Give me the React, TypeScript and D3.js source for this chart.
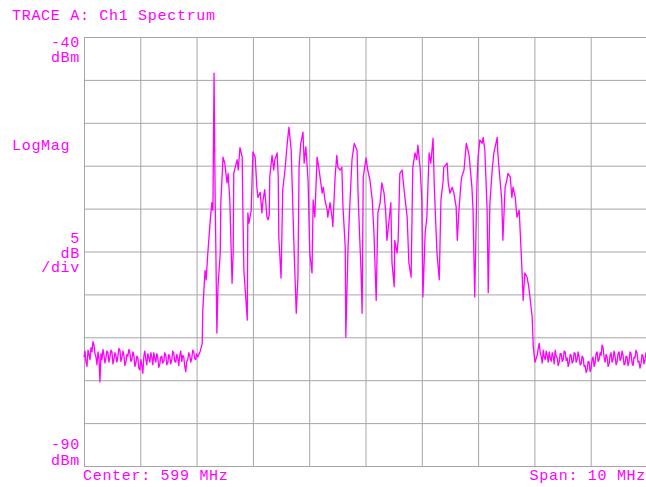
import React from "react";
import * as d3 from "d3";

// ---- Instrument settings / labels ----
const TITLE = "TRACE A: Ch1 Spectrum";
const REF_LEVEL = -40; // dBm (top)
const BOTTOM_LEVEL = -90; // dBm (bottom)
const DB_PER_DIV = 5;
const CENTER_MHZ = 599;
const SPAN_MHZ = 10;
const X_DIVS = 10;
const Y_DIVS = 10;
const FORMAT_LABEL = "LogMag";
const CENTER_LABEL = `Center: ${CENTER_MHZ} MHz`;
const SPAN_LABEL = `Span: ${SPAN_MHZ} MHz`;

// ---- Trace data (dBm) ----
// Noise floor below the channel: evenly spaced sweep points
const noiseLeftMHz = [594.0, 596.02];
const noiseLeft = [
  -77.3, -76.6, -77.9, -78.4, -76.5, -77.0, -77.6, -76.2, -76.7, -75.5,
  -75.9, -76.9, -77.3, -78.2, -76.7, -77.5, -80.2, -76.9, -77.6, -76.4,
  -77.1, -78.0, -77.4, -76.6, -76.8, -77.9, -77.3, -76.5, -76.7, -78.1,
  -77.6, -76.8, -77.1, -77.9, -77.2, -76.3, -76.5, -77.8, -77.4, -76.6,
  -77.1, -78.3, -77.9, -77.0, -77.2, -76.4, -76.8, -77.8, -77.6, -76.7,
  -77.1, -78.4, -78.0, -77.2, -77.4, -78.6, -78.8, -77.6, -78.3, -79.2,
  -77.2, -76.6, -77.6, -78.2, -76.9, -77.4, -77.9, -76.8, -77.3, -78.2,
  -76.8, -77.5, -77.9, -76.9, -77.4, -78.5, -78.1, -77.3, -77.2, -78.0,
  -77.8, -76.8, -77.1, -78.2, -78.0, -77.0, -77.3, -78.1, -77.6, -76.6,
  -76.9, -77.8, -77.9, -77.0, -77.4, -78.3, -77.1, -76.6, -77.8, -77.1,
  -77.3, -78.4, -79.0, -77.8, -77.6, -76.8, -77.1, -77.9, -77.5, -76.5,
  -76.7, -77.5, -77.6, -76.9, -77.3,
];

// Occupied channel: [MHz, dBm]
const channel: [number, number][] = [
  [596.06, -76.7], [596.1, -75.7], [596.11, -71.8], [596.15, -67.2],
  [596.17, -68.3], [596.2, -65.1], [596.24, -61.6], [596.27, -59.3], [596.29, -60.2],
  [596.31, -44.2], [596.33, -59.3], [596.34, -63.7], [596.36, -74.5], [596.38, -69.1],
  [596.42, -65.2], [596.43, -59.3], [596.47, -54.0], [596.5, -54.7], [596.54, -57.0],
  [596.56, -55.9], [596.59, -59.0], [596.63, -68.7], [596.65, -65.2], [596.66, -55.9],
  [596.72, -54.3], [596.74, -55.5], [596.77, -52.9], [596.81, -54.0], [596.82, -59.3],
  [596.84, -67.2], [596.9, -73.0], [596.91, -60.5], [596.93, -61.7], [596.97, -60.2],
  [597.0, -53.4], [597.04, -54.0], [597.07, -57.5], [597.09, -58.7], [597.13, -58.1],
  [597.16, -60.5], [597.18, -59.0], [597.21, -57.8], [597.25, -61.0], [597.27, -61.3],
  [597.29, -60.7], [597.3, -56.3], [597.34, -53.8], [597.37, -55.5], [597.39, -54.3],
  [597.43, -53.5], [597.45, -56.3], [597.46, -63.3], [597.5, -68.1], [597.53, -57.8],
  [597.57, -55.5], [597.61, -52.4], [597.64, -50.5], [597.68, -53.2], [597.69, -55.5],
  [597.73, -64.5], [597.77, -72.2], [597.8, -68.0], [597.82, -55.2], [597.85, -52.4],
  [597.89, -51.1], [597.91, -54.7], [597.94, -52.8], [597.98, -56.7], [598.01, -65.2],
  [598.05, -67.5], [598.07, -59.0], [598.1, -61.0], [598.14, -54.0], [598.17, -55.2],
  [598.23, -58.2], [598.25, -57.5], [598.28, -59.0], [598.32, -60.2], [598.33, -61.0],
  [598.37, -59.3], [598.41, -61.3], [598.42, -62.1], [598.46, -56.3], [598.49, -53.8],
  [598.51, -55.2], [598.55, -55.5], [598.58, -55.2], [598.6, -59.8], [598.64, -64.5],
  [598.65, -75.0], [598.69, -64.5], [598.72, -59.8], [598.76, -54.3], [598.8, -52.4],
  [598.85, -53.2], [598.87, -58.7], [598.92, -67.2], [598.94, -72.2], [598.96, -56.3],
  [599.01, -54.1], [599.04, -55.5], [599.08, -56.7], [599.12, -59.0], [599.15, -62.8],
  [599.19, -70.7], [599.22, -60.5], [599.26, -59.3], [599.29, -57.0], [599.33, -58.2],
  [599.36, -60.5], [599.38, -63.7], [599.42, -61.3], [599.45, -59.3], [599.47, -66.3],
  [599.51, -69.1], [599.52, -63.7], [599.56, -65.2], [599.58, -63.7], [599.61, -55.9],
  [599.65, -55.5], [599.68, -57.5], [599.74, -61.0], [599.77, -66.3], [599.81, -68.0],
  [599.84, -55.2], [599.88, -53.5], [599.91, -54.3], [599.93, -52.6], [599.97, -55.2],
  [600.0, -59.0], [600.02, -70.3], [600.06, -62.8], [600.09, -61.0], [600.13, -53.5],
  [600.16, -54.7], [600.2, -51.8], [600.22, -57.0], [600.25, -62.1], [600.27, -65.2],
  [600.31, -68.3], [600.34, -59.0], [600.38, -56.7], [600.39, -55.2], [600.45, -54.7],
  [600.47, -57.0], [600.5, -58.2], [600.54, -57.5], [600.57, -58.2], [600.61, -59.8],
  [600.63, -63.7], [600.66, -60.2], [600.7, -56.7], [600.71, -56.3], [600.75, -55.5],
  [600.79, -52.4], [600.82, -53.2], [600.84, -53.8], [600.89, -57.5], [600.91, -60.2],
  [600.94, -70.3], [600.98, -57.0], [601.0, -54.0], [601.03, -52.0], [601.07, -52.4],
  [601.09, -51.7], [601.12, -53.2], [601.16, -60.2], [601.18, -69.8], [601.21, -59.3],
  [601.25, -55.5], [601.28, -53.5], [601.34, -51.7], [601.35, -53.5], [601.39, -56.7],
  [601.42, -59.0], [601.44, -63.7], [601.48, -57.5], [601.51, -56.7], [601.53, -55.9],
  [601.57, -56.3], [601.6, -58.7], [601.62, -57.5], [601.66, -58.7], [601.69, -61.0],
  [601.73, -60.2], [601.78, -67.2], [601.8, -70.7], [601.83, -67.5], [601.87, -68.0],
  [601.9, -69.1], [601.96, -72.6], [601.98, -76.1], [602.01, -77.9],
];

// Noise floor above the channel: evenly spaced sweep points
const noiseRightMHz = [602.05, 604.0];
const noiseRight = [
  -77.1, -76.3, -75.7, -76.8, -77.2, -78.0, -76.5, -77.3, -77.6, -76.6,
  -77.1, -77.9, -76.7, -77.4, -77.8, -76.8, -77.2, -78.1, -76.5, -77.2,
  -77.4, -78.3, -77.9, -76.9, -76.9, -77.8, -77.6, -76.6, -76.7, -77.7,
  -77.4, -78.4, -78.0, -77.0, -77.1, -78.0, -77.8, -76.8, -76.9, -77.9,
  -77.6, -76.7, -77.3, -78.2, -78.1, -77.2, -77.4, -78.4, -78.3, -79.1,
  -78.8, -77.8, -77.9, -79.0, -78.6, -77.6, -77.3, -78.4, -78.0, -76.9,
  -76.7, -77.8, -77.6, -76.8, -77.1, -75.9, -76.2, -77.3, -77.9, -77.0,
  -77.3, -78.4, -78.1, -77.1, -76.8, -77.9, -77.6, -76.6, -77.2, -78.2,
  -77.9, -76.9, -76.7, -77.7, -77.5, -76.6, -77.1, -78.2, -78.1, -77.2,
  -77.3, -78.3, -77.8, -76.7, -76.9, -78.0, -78.3, -77.3, -77.4, -76.5,
  -76.8, -77.9, -77.8, -78.6, -78.1, -77.0, -77.2, -78.1, -77.6, -76.8,
  -77.4,
];

const sweep = (range: number[], vals: number[]): [number, number][] =>
  vals.map((v, i) => [range[0] + ((range[1] - range[0]) * i) / (vals.length - 1), v]);

const W = 646;
const H = 487;
const PLOT = { left: 84, top: 37, right: 647, bottom: 466 };
const MAGENTA = "#ff00ff";
const FONT = "'Liberation Mono', 'DejaVu Sans Mono', monospace";

export default function App() {
  const startF = CENTER_MHZ - SPAN_MHZ / 2;
  const stopF = CENTER_MHZ + SPAN_MHZ / 2;
  const x = d3.scaleLinear().domain([startF, stopF]).range([PLOT.left, PLOT.right]);
  const y = d3.scaleLinear().domain([REF_LEVEL, BOTTOM_LEVEL]).range([PLOT.top, PLOT.bottom]);

  const trace: [number, number][] = [
    ...sweep(noiseLeftMHz, noiseLeft),
    ...channel,
    ...sweep(noiseRightMHz, noiseRight),
  ];
  const line = d3
    .line<[number, number]>()
    .x((d) => x(d[0]))
    .y((d) => y(d[1]));

  const vLines = d3.range(X_DIVS + 1).map((i) => startF + (i * SPAN_MHZ) / X_DIVS);
  const hLines = d3.range(Y_DIVS + 1).map((j) => REF_LEVEL - j * DB_PER_DIV);

  const txt = { fill: MAGENTA, fontFamily: FONT, fontSize: 15, letterSpacing: 0.7 } as const;

  return (
    <div style={{ position: "fixed", left: 0, top: 0 }}>
      <svg width={W} height={H} style={{ display: "block", background: "#fff" }}>
        <g stroke="#a6a6a6" strokeWidth={1}>
          {vLines.map((f, i) => (
            <line key={"v" + i} x1={x(f) + 0.5} x2={x(f) + 0.5} y1={PLOT.top} y2={PLOT.bottom + 0.5} />
          ))}
          {hLines.map((l, j) => (
            <line key={"h" + j} x1={PLOT.left} x2={PLOT.right} y1={y(l) + 0.5} y2={y(l) + 0.5} />
          ))}
        </g>
        <path d={line(trace) || ""} fill="none" stroke={MAGENTA} strokeWidth={1.3} strokeLinejoin="round" />
        <text x={12} y={20} {...txt}>{TITLE}</text>
        <text x={80} y={47} textAnchor="end" {...txt}>{String(REF_LEVEL)}</text>
        <text x={80} y={61.5} textAnchor="end" {...txt}>dBm</text>
        <text x={12} y={149.5} {...txt}>{FORMAT_LABEL}</text>
        <text x={80} y={243} textAnchor="end" {...txt}>{String(DB_PER_DIV)}</text>
        <text x={80} y={257.5} textAnchor="end" {...txt}>dB</text>
        <text x={80} y={271.5} textAnchor="end" {...txt}>/div</text>
        <text x={80} y={449} textAnchor="end" {...txt}>{String(BOTTOM_LEVEL)}</text>
        <text x={80} y={464.5} textAnchor="end" {...txt}>dBm</text>
        <text x={83} y={480} {...txt}>{CENTER_LABEL}</text>
        <text x={646} y={480} textAnchor="end" {...txt}>{SPAN_LABEL}</text>
      </svg>
    </div>
  );
}
